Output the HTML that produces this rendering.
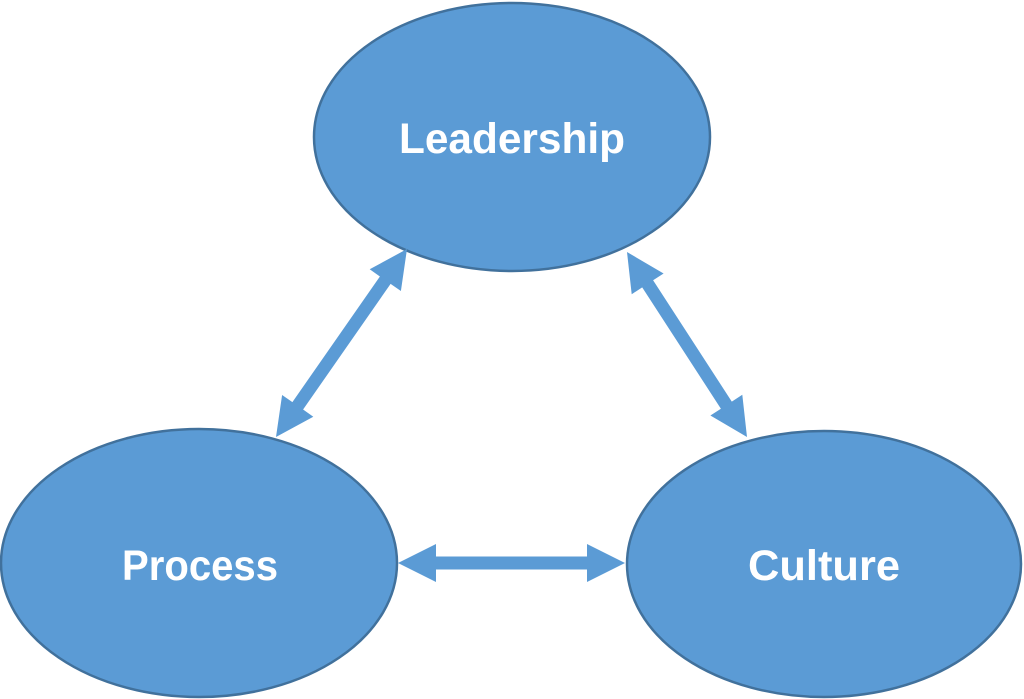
<!DOCTYPE html>
<html><head><meta charset="utf-8"><style>html,body{margin:0;padding:0;background:#fff}svg{display:block}</style></head>
<body>
<svg width="1024" height="699" viewBox="0 0 1024 699" xmlns="http://www.w3.org/2000/svg">
<g fill="#5b9bd5" stroke="#41719c" stroke-width="2.5">
<ellipse cx="512" cy="137" rx="198" ry="134"/>
<ellipse cx="199" cy="563" rx="198" ry="134"/>
<ellipse cx="824" cy="564" rx="197" ry="133"/>
</g>
<g id="arrows" fill="#5b9bd5"></g>
<g fill="#fff" font-family="'Liberation Sans', sans-serif" font-weight="bold" font-size="43" text-anchor="middle">
<text x="512" y="153" textLength="226" lengthAdjust="spacingAndGlyphs">Leadership</text>
<text x="200" y="580" textLength="156" lengthAdjust="spacingAndGlyphs">Process</text>
<text x="824" y="580" textLength="152" lengthAdjust="spacingAndGlyphs">Culture</text>
</g>
</svg>
<script>
function arrow(x1,y1,x2,y2){
 var dx=x2-x1,dy=y2-y1,L=Math.hypot(dx,dy),ux=dx/L,uy=dy/L,nx=-uy,ny=ux;
 var h=38,hw=19,sw=6.5;
 function p(d,o){return (x1+ux*d+nx*o).toFixed(1)+','+(y1+uy*d+ny*o).toFixed(1);}
 var pts=[p(0,0),p(h,hw),p(h,sw),p(L-h,sw),p(L-h,hw),p(L,0),p(L-h,-hw),p(L-h,-sw),p(h,-sw),p(h,-hw)];
 var el=document.createElementNS('http://www.w3.org/2000/svg','polygon');
 el.setAttribute('points',pts.join(' '));
 document.getElementById('arrows').appendChild(el);
}
arrow(407,249,276,437);
arrow(627,252,747,437);
arrow(398,563,625,563);
</script>
</body></html>
